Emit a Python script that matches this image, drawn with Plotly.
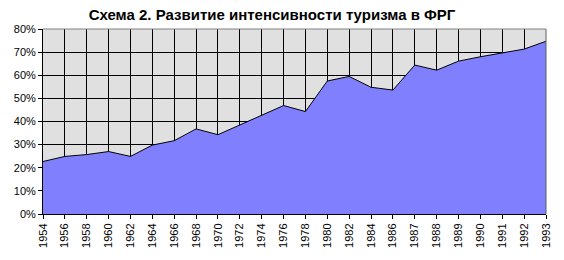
import plotly.graph_objects as go

years = ["1954", "1956", "1958", "1960", "1962", "1964", "1966", "1968", "1970", "1972",
         "1974", "1976", "1978", "1980", "1982", "1984", "1986", "1987", "1988", "1989",
         "1990", "1991", "1992", "1993"]
intensity = [22.7, 24.9, 25.7, 27.0, 24.9, 29.8, 31.7, 36.8, 34.3, 38.5,
             42.5, 46.9, 44.3, 57.5, 59.5, 54.8, 53.6, 64.4, 62.2, 66.1,
             68.0, 69.7, 71.3, 74.7]
yticks = [0, 10, 20, 30, 40, 50, 60, 70, 80]
title = "Схема 2. Развитие интенсивности туризма в ФРГ"

fig = go.Figure()
fig.add_trace(go.Scatter(
    x=list(range(len(years))), y=intensity, mode="lines",
    fill="tozeroy", fillcolor="#8080FF",
    line=dict(color="black", width=1),
    hoverinfo="skip", showlegend=False,
))

font = "Liberation Sans, Arial, sans-serif"
fig.update_layout(
    width=564, height=260,
    margin=dict(l=43, r=16, t=29, b=45),
    paper_bgcolor="white", plot_bgcolor="#E0E0E0",
    title=dict(text="<b>" + title + "</b>", x=272 / 564, xanchor="center",
               y=1 - 15 / 260, yanchor="middle",
               font=dict(family=font, size=15, color="black")),
    font=dict(family=font, size=11, color="black"),
    shapes=[
        dict(type="line", xref="paper", yref="paper", x0=0, x1=1, y0=1, y1=1,
             line=dict(color="#808080", width=1), layer="above"),
        dict(type="line", xref="paper", yref="paper", x0=1, x1=1, y0=0, y1=1,
             line=dict(color="#606060", width=1), layer="above"),
    ],
)
fig.update_xaxes(
    range=[0, len(years) - 1], tickmode="array",
    tickvals=list(range(len(years))), ticktext=years, tickangle=-90,
    showgrid=True, gridcolor="black", gridwidth=1,
    showline=True, linecolor="black", linewidth=1,
    ticks="outside", ticklen=4, tickcolor="black", zeroline=False,
    tickfont=dict(size=11),
)
fig.update_yaxes(
    range=[0, 80], tickmode="array", tickvals=yticks,
    ticktext=[f"{v}%" for v in yticks],
    showgrid=True, gridcolor="black", gridwidth=1,
    showline=True, linecolor="black", linewidth=1,
    ticks="outside", ticklen=4, tickcolor="black", zeroline=False,
    tickfont=dict(size=11),
)
fig.write_html("out.html")
